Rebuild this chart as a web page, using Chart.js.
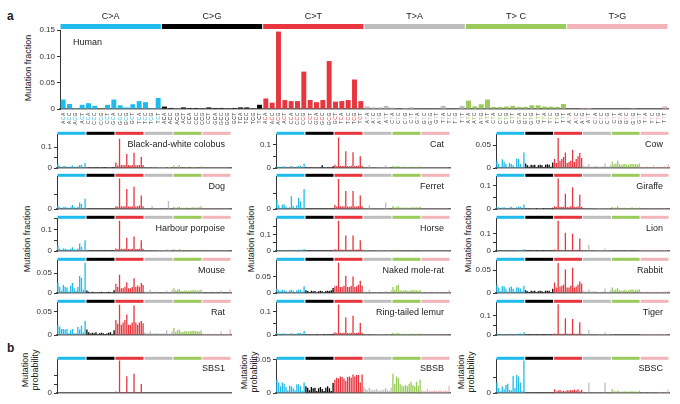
<!DOCTYPE html>
<html>
<head>
<meta charset="utf-8">
<script src="https://cdn.jsdelivr.net/npm/chart.js@4.4.0/dist/chart.umd.min.js"></script>
<style>
  body { margin: 0; background: #fff; font-family: "Liberation Sans", Arial, sans-serif; }
  #fig { position: relative; width: 680px; height: 404px; overflow: hidden; }
  #fig canvas { position: absolute; }
  .lbl { position: absolute; color: #222; font-size: 9px; white-space: nowrap; }
  .rot { transform: translate(-50%, -50%) rotate(-90deg); text-align: center; line-height: 10px; }
</style>
</head>
<body>
<div id="fig">
  <div class="lbl" style="left:7px;top:9px;font-weight:bold;font-size:12px">a</div>
  <div class="lbl" style="left:7px;top:341px;font-weight:bold;font-size:12px">b</div>
  <div class="lbl rot" style="left:28px;top:68px">Mutation fraction</div>
  <div class="lbl rot" style="left:27px;top:239px">Mutation fraction</div>
  <div class="lbl rot" style="left:251px;top:239px">Mutation fraction</div>
  <div class="lbl rot" style="left:468px;top:239px">Mutation fraction</div>
  <div class="lbl rot" style="left:30px;top:370px">Mutation<br>probability</div>
  <div class="lbl rot" style="left:249px;top:372px">Mutation<br>probability</div>
  <div class="lbl rot" style="left:466px;top:372px">Mutation<br>probability</div>
</div>
<script>
// categories
const mutationTypes = ['C>A', 'C>G', 'C>T', 'T>A', 'T>C', 'T>G'];
const typeLabels = ['C>A', 'C>G', 'C>T', 'T>A', 'T> C', 'T>G'];
const fivePrime = ['A', 'C', 'G', 'T'];
const threePrime = ['A', 'C', 'G', 'T'];
const typeColors = ['#1fbbec', '#000000', '#e8363f', '#bdbdbd', '#9bca5c', '#f2b4b9'];

// values, 96 per panel (16 contexts per mutation type)
const human = [
  0.018, 0.0095, 0.002, 0.008, 0.011, 0.006, 0.001, 0.008, 0.018, 0.007, 0.003, 0.009, 0.015, 0.013, 0.002, 0.021,
  0.0045, 0.002, 0.001, 0.003, 0.002, 0.002, 0.0006, 0.003, 0.002, 0.002, 0.0005, 0.002, 0.003, 0.003, 0.0005, 0.008,
  0.02, 0.012, 0.147, 0.017, 0.015, 0.015, 0.071, 0.017, 0.013, 0.017, 0.091, 0.014, 0.015, 0.017, 0.056, 0.015,
  0.005, 0.003, 0.003, 0.006, 0.0025, 0.001, 0.002, 0.003, 0.001, 0.0008, 0.001, 0.0008, 0.006, 0.001, 0.0008, 0.006,
  0.016, 0.005, 0.009, 0.018, 0.004, 0.004, 0.0045, 0.006, 0.004, 0.004, 0.007, 0.007, 0.0045, 0.0045, 0.004, 0.0095,
  0.001, 0.001, 0.0015, 0.002, 0.001, 0.001, 0.001, 0.001, 0.001, 0.001, 0.0015, 0.001, 0.001, 0.001, 0.001, 0.005
];
const colobus = [
  0.02, 0.01, 0.003, 0.008, 0.01, 0.006, 0.002, 0.007, 0.012, 0.006, 0.002, 0.008, 0.014, 0.016, 0.003, 0.024,
  0.003, 0.001, 0.001, 0.002, 0.001, 0.001, 0.0005, 0.002, 0.001, 0.001, 0.0005, 0.001, 0.002, 0.002, 0.0005, 0.005,
  0.027, 0.012, 0.141, 0.014, 0.013, 0.014, 0.068, 0.014, 0.012, 0.015, 0.073, 0.013, 0.013, 0.015, 0.053, 0.014,
  0.002, 0.001, 0.001, 0.003, 0.001, 0.001, 0.001, 0.001, 0.0005, 0.0005, 0.0005, 0.0005, 0.003, 0.0005, 0.0005, 0.002,
  0.012, 0.004, 0.007, 0.013, 0.004, 0.003, 0.004, 0.005, 0.003, 0.003, 0.005, 0.005, 0.004, 0.004, 0.003, 0.007,
  0.001, 0.001, 0.001, 0.001, 0.001, 0.001, 0.001, 0.001, 0.001, 0.001, 0.001, 0.001, 0.001, 0.001, 0.001, 0.003
];
const dog = [
  0.012, 0.006, 0.002, 0.006, 0.008, 0.005, 0.001, 0.006, 0.014, 0.006, 0.002, 0.008, 0.023, 0.018, 0.003, 0.036,
  0.002, 0.001, 0.0005, 0.001, 0.001, 0.001, 0.0005, 0.001, 0.001, 0.001, 0.0005, 0.001, 0.001, 0.001, 0.0005, 0.003,
  0.01, 0.008, 0.108, 0.01, 0.009, 0.01, 0.071, 0.009, 0.008, 0.01, 0.079, 0.009, 0.01, 0.012, 0.048, 0.01,
  0.001, 0.001, 0.001, 0.002, 0.011, 0.001, 0.001, 0.001, 0.0005, 0.0005, 0.0005, 0.0005, 0.002, 0.028, 0.0005, 0.002,
  0.008, 0.004, 0.006, 0.009, 0.004, 0.004, 0.004, 0.005, 0.003, 0.004, 0.005, 0.006, 0.004, 0.005, 0.006, 0.01,
  0.001, 0.001, 0.001, 0.001, 0.001, 0.001, 0.001, 0.001, 0.001, 0.001, 0.001, 0.001, 0.001, 0.001, 0.001, 0.002
];
const porpoise = [
  0.027, 0.01, 0.003, 0.012, 0.01, 0.008, 0.002, 0.01, 0.018, 0.008, 0.003, 0.012, 0.035, 0.02, 0.003, 0.05,
  0.002, 0.001, 0.0005, 0.001, 0.001, 0.001, 0.0005, 0.001, 0.001, 0.001, 0.0005, 0.001, 0.001, 0.001, 0.0005, 0.003,
  0.012, 0.008, 0.141, 0.01, 0.009, 0.01, 0.062, 0.009, 0.008, 0.01, 0.068, 0.009, 0.009, 0.011, 0.05, 0.01,
  0.002, 0.001, 0.001, 0.002, 0.001, 0.001, 0.001, 0.001, 0.0005, 0.0005, 0.0005, 0.0005, 0.008, 0.0005, 0.0005, 0.002,
  0.008, 0.004, 0.005, 0.009, 0.004, 0.003, 0.004, 0.004, 0.003, 0.003, 0.004, 0.005, 0.004, 0.004, 0.003, 0.006,
  0.001, 0.001, 0.001, 0.001, 0.001, 0.001, 0.001, 0.001, 0.001, 0.001, 0.001, 0.001, 0.001, 0.001, 0.001, 0.002
];
const mouse = [
  0.025, 0.015, 0.006, 0.02, 0.016, 0.014, 0.004, 0.018, 0.025, 0.012, 0.005, 0.015, 0.043, 0.038, 0.008, 0.076,
  0.006, 0.003, 0.001, 0.003, 0.002, 0.002, 0.0005, 0.002, 0.003, 0.002, 0.0005, 0.002, 0.003, 0.002, 0.0005, 0.007,
  0.023, 0.015, 0.046, 0.012, 0.012, 0.016, 0.027, 0.012, 0.012, 0.015, 0.037, 0.015, 0.019, 0.016, 0.025, 0.02,
  0.004, 0.003, 0.003, 0.008, 0.002, 0.002, 0.003, 0.003, 0.002, 0.002, 0.002, 0.002, 0.006, 0.002, 0.002, 0.008,
  0.012, 0.006, 0.008, 0.01, 0.005, 0.005, 0.006, 0.006, 0.005, 0.006, 0.007, 0.008, 0.006, 0.006, 0.006, 0.009,
  0.002, 0.001, 0.001, 0.002, 0.001, 0.001, 0.001, 0.002, 0.001, 0.001, 0.006, 0.001, 0.001, 0.001, 0.001, 0.009
];
const rat = [
  0.022, 0.017, 0.013, 0.013, 0.012, 0.013, 0.004, 0.01, 0.013, 0.004, 0.004, 0.017, 0.012, 0.02, 0.006, 0.03,
  0.012, 0.006, 0.003, 0.005, 0.004, 0.006, 0.002, 0.004, 0.005, 0.004, 0.002, 0.003, 0.005, 0.006, 0.002, 0.01,
  0.032, 0.024, 0.065, 0.022, 0.027, 0.032, 0.044, 0.022, 0.022, 0.027, 0.063, 0.027, 0.022, 0.027, 0.03, 0.025,
  0.006, 0.004, 0.004, 0.008, 0.003, 0.003, 0.004, 0.004, 0.003, 0.003, 0.003, 0.004, 0.01, 0.003, 0.003, 0.008,
  0.015, 0.007, 0.01, 0.012, 0.007, 0.007, 0.008, 0.008, 0.007, 0.008, 0.009, 0.009, 0.008, 0.008, 0.007, 0.01,
  0.003, 0.002, 0.002, 0.003, 0.002, 0.002, 0.002, 0.003, 0.002, 0.002, 0.008, 0.002, 0.002, 0.002, 0.002, 0.012
];
const sbs1 = [
  0, 0, 0, 0, 0, 0, 0, 0, 0, 0, 0, 0, 0, 0, 0, 0,
  0, 0, 0, 0, 0, 0, 0, 0, 0, 0, 0, 0, 0, 0, 0, 0,
  0.018, 0.003, 0.366, 0.002, 0.004, 0.002, 0.19, 0.002, 0.003, 0.002, 0.216, 0.002, 0.002, 0.002, 0.102, 0.002,
  0, 0, 0, 0, 0, 0, 0, 0, 0, 0, 0, 0, 0, 0, 0, 0,
  0, 0, 0, 0, 0, 0, 0, 0, 0, 0, 0, 0, 0, 0, 0, 0,
  0, 0, 0, 0, 0, 0, 0, 0, 0, 0, 0, 0, 0, 0, 0, 0
];
const cat = [
  0.008, 0.005, 0.002, 0.006, 0.006, 0.005, 0.001, 0.006, 0.009, 0.005, 0.002, 0.006, 0.009, 0.01, 0.002, 0.018,
  0.004, 0.002, 0.001, 0.003, 0.002, 0.002, 0.001, 0.002, 0.003, 0.012, 0.001, 0.002, 0.003, 0.003, 0.001, 0.008,
  0.014, 0.008, 0.131, 0.01, 0.009, 0.01, 0.072, 0.009, 0.008, 0.01, 0.068, 0.009, 0.009, 0.011, 0.051, 0.01,
  0.001, 0.001, 0.001, 0.014, 0.001, 0.001, 0.001, 0.001, 0.0005, 0.0005, 0.0005, 0.0005, 0.011, 0.0005, 0.0005, 0.002,
  0.01, 0.005, 0.006, 0.009, 0.005, 0.004, 0.005, 0.005, 0.004, 0.004, 0.005, 0.005, 0.004, 0.005, 0.004, 0.006,
  0.001, 0.001, 0.001, 0.001, 0.001, 0.001, 0.001, 0.001, 0.001, 0.001, 0.001, 0.001, 0.001, 0.001, 0.001, 0.002
];
const ferret = [
  0.03, 0.012, 0.003, 0.014, 0.015, 0.008, 0.002, 0.006, 0.041, 0.01, 0.002, 0.012, 0.036, 0.025, 0.004, 0.065,
  0.002, 0.001, 0.0005, 0.001, 0.001, 0.001, 0.0005, 0.001, 0.001, 0.001, 0.0005, 0.001, 0.001, 0.001, 0.0005, 0.003,
  0.013, 0.008, 0.097, 0.009, 0.008, 0.009, 0.058, 0.008, 0.007, 0.009, 0.058, 0.008, 0.008, 0.01, 0.044, 0.009,
  0.001, 0.001, 0.001, 0.012, 0.001, 0.001, 0.001, 0.001, 0.0005, 0.0005, 0.0005, 0.0005, 0.021, 0.0005, 0.0005, 0.002,
  0.01, 0.005, 0.006, 0.008, 0.005, 0.004, 0.005, 0.005, 0.004, 0.004, 0.005, 0.006, 0.005, 0.006, 0.005, 0.007,
  0.001, 0.001, 0.001, 0.001, 0.001, 0.001, 0.001, 0.001, 0.001, 0.001, 0.001, 0.001, 0.001, 0.001, 0.001, 0.002
];
const horse = [
  0.006, 0.004, 0.001, 0.004, 0.005, 0.004, 0.001, 0.004, 0.007, 0.004, 0.001, 0.005, 0.008, 0.008, 0.001, 0.012,
  0.002, 0.001, 0.0005, 0.001, 0.001, 0.001, 0.0005, 0.001, 0.001, 0.001, 0.0005, 0.001, 0.001, 0.001, 0.0005, 0.003,
  0.01, 0.007, 0.186, 0.008, 0.007, 0.008, 0.096, 0.008, 0.007, 0.008, 0.096, 0.008, 0.007, 0.009, 0.066, 0.008,
  0.001, 0.001, 0.001, 0.002, 0.001, 0.001, 0.001, 0.001, 0.0005, 0.0005, 0.0005, 0.0005, 0.002, 0.0005, 0.0005, 0.001,
  0.007, 0.004, 0.005, 0.007, 0.004, 0.003, 0.004, 0.004, 0.003, 0.003, 0.004, 0.004, 0.004, 0.004, 0.003, 0.005,
  0.001, 0.001, 0.001, 0.001, 0.001, 0.001, 0.001, 0.001, 0.001, 0.001, 0.001, 0.001, 0.001, 0.001, 0.001, 0.002
];
const moleRat = [
  0.013, 0.008, 0.005, 0.01, 0.008, 0.007, 0.003, 0.008, 0.01, 0.007, 0.003, 0.008, 0.01, 0.01, 0.004, 0.02,
  0.008, 0.006, 0.003, 0.007, 0.005, 0.006, 0.002, 0.005, 0.007, 0.005, 0.002, 0.006, 0.007, 0.006, 0.008, 0.015,
  0.02, 0.022, 0.091, 0.018, 0.018, 0.022, 0.052, 0.018, 0.018, 0.022, 0.05, 0.018, 0.02, 0.025, 0.037, 0.022,
  0.003, 0.002, 0.002, 0.01, 0.002, 0.002, 0.002, 0.003, 0.001, 0.001, 0.001, 0.001, 0.006, 0.002, 0.001, 0.008,
  0.018, 0.01, 0.022, 0.025, 0.008, 0.007, 0.008, 0.008, 0.007, 0.007, 0.008, 0.009, 0.008, 0.008, 0.007, 0.009,
  0.003, 0.002, 0.002, 0.003, 0.002, 0.002, 0.002, 0.003, 0.002, 0.002, 0.004, 0.002, 0.002, 0.002, 0.002, 0.01
];
const lemur = [
  0.008, 0.005, 0.002, 0.006, 0.006, 0.005, 0.001, 0.005, 0.008, 0.005, 0.002, 0.006, 0.009, 0.01, 0.002, 0.017,
  0.003, 0.002, 0.001, 0.002, 0.002, 0.002, 0.0005, 0.002, 0.002, 0.002, 0.0005, 0.002, 0.003, 0.003, 0.001, 0.005,
  0.012, 0.008, 0.132, 0.01, 0.009, 0.01, 0.076, 0.009, 0.008, 0.01, 0.083, 0.009, 0.009, 0.011, 0.052, 0.01,
  0.002, 0.001, 0.001, 0.002, 0.001, 0.001, 0.001, 0.001, 0.0005, 0.0005, 0.0005, 0.0005, 0.002, 0.0005, 0.0005, 0.002,
  0.01, 0.005, 0.006, 0.009, 0.005, 0.004, 0.005, 0.005, 0.004, 0.004, 0.005, 0.005, 0.004, 0.005, 0.004, 0.006,
  0.001, 0.001, 0.001, 0.001, 0.001, 0.001, 0.001, 0.001, 0.001, 0.001, 0.001, 0.001, 0.001, 0.001, 0.001, 0.002
];
const sbsb = [
  0.02, 0.016, 0.01, 0.016, 0.014, 0.009, 0.004, 0.011, 0.01, 0.007, 0.004, 0.013, 0.013, 0.01, 0.003, 0.016,
  0.01, 0.008, 0.004, 0.009, 0.007, 0.008, 0.003, 0.007, 0.009, 0.006, 0.003, 0.008, 0.01, 0.007, 0.003, 0.015,
  0.02, 0.023, 0.022, 0.025, 0.024, 0.022, 0.018, 0.024, 0.025, 0.023, 0.028, 0.025, 0.027, 0.027, 0.016, 0.028,
  0.009, 0.006, 0.004, 0.008, 0.005, 0.004, 0.005, 0.006, 0.003, 0.004, 0.004, 0.005, 0.007, 0.004, 0.003, 0.008,
  0.029, 0.014, 0.025, 0.023, 0.014, 0.011, 0.01, 0.012, 0.01, 0.014, 0.017, 0.012, 0.01, 0.017, 0.011, 0.02,
  0.004, 0.003, 0.003, 0.006, 0.003, 0.003, 0.003, 0.004, 0.003, 0.003, 0.005, 0.003, 0.003, 0.004, 0.003, 0.011
];
const cow = [
  0.016, 0.009, 0.002, 0.019, 0.014, 0.009, 0.002, 0.011, 0.009, 0.006, 0.002, 0.021, 0.02, 0.009, 0.002, 0.034,
  0.01, 0.006, 0.003, 0.007, 0.006, 0.007, 0.002, 0.006, 0.007, 0.006, 0.002, 0.007, 0.008, 0.007, 0.003, 0.012,
  0.02, 0.011, 0.066, 0.016, 0.02, 0.024, 0.034, 0.011, 0.013, 0.016, 0.04, 0.013, 0.02, 0.026, 0.033, 0.022,
  0.005, 0.004, 0.004, 0.009, 0.003, 0.003, 0.004, 0.005, 0.003, 0.003, 0.003, 0.004, 0.01, 0.003, 0.003, 0.006,
  0.014, 0.008, 0.01, 0.016, 0.008, 0.007, 0.008, 0.009, 0.007, 0.007, 0.009, 0.009, 0.008, 0.009, 0.007, 0.01,
  0.003, 0.002, 0.002, 0.004, 0.002, 0.002, 0.002, 0.006, 0.002, 0.002, 0.003, 0.002, 0.002, 0.004, 0.002, 0.008
];
const giraffe = [
  0.01, 0.006, 0.002, 0.006, 0.007, 0.005, 0.001, 0.006, 0.01, 0.005, 0.002, 0.007, 0.01, 0.01, 0.002, 0.019,
  0.003, 0.002, 0.001, 0.002, 0.002, 0.002, 0.0005, 0.002, 0.002, 0.002, 0.0005, 0.002, 0.003, 0.003, 0.001, 0.005,
  0.012, 0.009, 0.13, 0.01, 0.009, 0.01, 0.065, 0.009, 0.008, 0.012, 0.093, 0.009, 0.009, 0.012, 0.061, 0.01,
  0.002, 0.001, 0.001, 0.002, 0.001, 0.001, 0.001, 0.001, 0.0005, 0.0005, 0.0005, 0.0005, 0.003, 0.0005, 0.0005, 0.002,
  0.009, 0.005, 0.006, 0.012, 0.005, 0.004, 0.005, 0.005, 0.004, 0.004, 0.005, 0.006, 0.004, 0.005, 0.004, 0.006,
  0.001, 0.001, 0.001, 0.001, 0.001, 0.001, 0.001, 0.001, 0.001, 0.001, 0.001, 0.001, 0.001, 0.001, 0.001, 0.002
];
const lion = [
  0.005, 0.003, 0.001, 0.003, 0.004, 0.003, 0.001, 0.003, 0.005, 0.003, 0.001, 0.004, 0.006, 0.006, 0.001, 0.01,
  0.001, 0.001, 0.0005, 0.001, 0.001, 0.001, 0.0005, 0.001, 0.001, 0.001, 0.0005, 0.001, 0.001, 0.001, 0.0005, 0.002,
  0.008, 0.005, 0.175, 0.006, 0.005, 0.006, 0.106, 0.006, 0.005, 0.006, 0.1, 0.006, 0.005, 0.007, 0.072, 0.006,
  0.001, 0.001, 0.001, 0.034, 0.001, 0.001, 0.001, 0.001, 0.0005, 0.0005, 0.0005, 0.0005, 0.015, 0.0005, 0.0005, 0.002,
  0.005, 0.003, 0.003, 0.005, 0.003, 0.002, 0.003, 0.003, 0.002, 0.002, 0.003, 0.003, 0.003, 0.003, 0.002, 0.004,
  0.0005, 0.0005, 0.0005, 0.0005, 0.0005, 0.0005, 0.0005, 0.0005, 0.0005, 0.0005, 0.0005, 0.0005, 0.0005, 0.0005, 0.0005, 0.001
];
const rabbit = [
  0.018, 0.012, 0.004, 0.015, 0.014, 0.01, 0.003, 0.012, 0.014, 0.009, 0.003, 0.012, 0.012, 0.01, 0.004, 0.016,
  0.006, 0.004, 0.002, 0.005, 0.004, 0.005, 0.002, 0.004, 0.005, 0.004, 0.002, 0.005, 0.005, 0.005, 0.002, 0.009,
  0.023, 0.012, 0.065, 0.014, 0.016, 0.018, 0.051, 0.012, 0.012, 0.016, 0.055, 0.012, 0.014, 0.018, 0.025, 0.02,
  0.005, 0.003, 0.003, 0.008, 0.003, 0.003, 0.003, 0.004, 0.002, 0.002, 0.002, 0.003, 0.01, 0.002, 0.002, 0.006,
  0.012, 0.006, 0.008, 0.011, 0.006, 0.005, 0.006, 0.007, 0.005, 0.006, 0.007, 0.008, 0.006, 0.007, 0.006, 0.008,
  0.003, 0.002, 0.002, 0.003, 0.002, 0.002, 0.002, 0.003, 0.002, 0.002, 0.002, 0.002, 0.002, 0.003, 0.002, 0.005
];
const tiger = [
  0.006, 0.004, 0.001, 0.004, 0.005, 0.003, 0.001, 0.004, 0.006, 0.004, 0.001, 0.005, 0.008, 0.008, 0.001, 0.015,
  0.001, 0.001, 0.0005, 0.001, 0.001, 0.001, 0.0005, 0.001, 0.001, 0.001, 0.0005, 0.001, 0.001, 0.001, 0.0005, 0.002,
  0.008, 0.005, 0.16, 0.006, 0.005, 0.006, 0.088, 0.006, 0.005, 0.006, 0.083, 0.006, 0.005, 0.007, 0.066, 0.006,
  0.001, 0.001, 0.001, 0.027, 0.001, 0.001, 0.001, 0.001, 0.0005, 0.0005, 0.0005, 0.0005, 0.015, 0.0005, 0.0005, 0.002,
  0.004, 0.002, 0.003, 0.004, 0.002, 0.002, 0.002, 0.002, 0.002, 0.002, 0.002, 0.003, 0.002, 0.002, 0.002, 0.003,
  0.0005, 0.0005, 0.0005, 0.0005, 0.0005, 0.0005, 0.0005, 0.0005, 0.0005, 0.0005, 0.0005, 0.0005, 0.0005, 0.0005, 0.0005, 0.001
];
const sbsc = [
  0.034, 0.016, 0.006, 0.021, 0.012, 0.026, 0.03, 0.01, 0.008, 0.055, 0.016, 0.058, 0.053, 0.034, 0.006, 0.105,
  0.001, 0.0005, 0.0005, 0.001, 0.0005, 0.0005, 0.0005, 0.0005, 0.0005, 0.0005, 0.0005, 0.0005, 0.0005, 0.0005, 0.0005, 0.001,
  0.012, 0.005, 0.008, 0.01, 0.006, 0.007, 0.005, 0.009, 0.008, 0.01, 0.009, 0.011, 0.008, 0.012, 0.006, 0.01,
  0.001, 0.001, 0.001, 0.034, 0.001, 0.001, 0.001, 0.001, 0.0005, 0.0005, 0.0005, 0.0005, 0.034, 0.0005, 0.0005, 0.001,
  0.012, 0.006, 0.005, 0.008, 0.005, 0.004, 0.005, 0.006, 0.004, 0.005, 0.005, 0.006, 0.005, 0.005, 0.004, 0.007,
  0.002, 0.001, 0.001, 0.002, 0.001, 0.001, 0.001, 0.002, 0.001, 0.001, 0.004, 0.001, 0.001, 0.001, 0.001, 0.012
];

// trinucleotide labels, e.g. "ACA", built from the flanks
const contexts = [];
mutationTypes.forEach(t => {
  fivePrime.forEach(a => threePrime.forEach(b => contexts.push(a + t[0] + b)));
});
const barColors = contexts.map((c, i) => typeColors[Math.floor(i / 16)]);

const FONT = '"Liberation Sans", Arial, sans-serif';
const fig = document.getElementById('fig');

// colour strip above the plot, panel name and (for Human) the context labels
const stripPlugin = {
  id: 'strip',
  afterDraw(chart, args, opts) {
    const { ctx, chartArea } = chart;
    const x = chart.scales.x;
    const slot = x.width / 96;
    ctx.save();
    for (let g = 0; g < 6; g++) {
      const x0 = x.getPixelForValue(g * 16) - slot / 2;
      const x1 = x.getPixelForValue(g * 16 + 15) + slot / 2;
      ctx.fillStyle = typeColors[g];
      ctx.fillRect(x0 + 0.5, chartArea.top - opts.gap - opts.height, x1 - x0 - 1, opts.height);
      if (opts.showTypes) {
        ctx.fillStyle = '#222';
        ctx.font = '9px ' + FONT;
        ctx.textAlign = 'center';
        ctx.textBaseline = 'middle';
        ctx.fillText(typeLabels[g], (x0 + x1) / 2, chartArea.top - opts.gap - opts.height - 7);
      }
    }
    if (opts.name) {
      ctx.fillStyle = '#222';
      ctx.font = '9px ' + FONT;
      ctx.textBaseline = 'middle';
      if (opts.nameLeft) {
        ctx.textAlign = 'left';
        ctx.fillText(opts.name, chartArea.left + 13, chartArea.top + 13);
      } else {
        ctx.textAlign = 'right';
        ctx.fillText(opts.name, chartArea.right - 6, chartArea.top + opts.nameDy);
      }
    }
    if (opts.contextLabels) {
      ctx.font = '5px ' + FONT;
      ctx.textBaseline = 'middle';
      ctx.textAlign = 'left';
      contexts.forEach((c, i) => {
        const px = x.getPixelForValue(i);
        const widths = c.split('').map(ch => ctx.measureText(ch).width + 0.6);
        const total = widths.reduce((s, w) => s + w, 0);
        ctx.save();
        ctx.translate(px, chartArea.bottom + 3);
        ctx.rotate(-Math.PI / 2);
        let pos = -total;
        c.split('').forEach((ch, k) => {
          ctx.fillStyle = k === 1 ? typeColors[Math.floor(i / 16)] : '#444';
          ctx.fillText(ch, pos, 0);
          pos += widths[k];
        });
        ctx.restore();
      });
    }
    ctx.restore();
  }
};

function drawPanel(cfg) {
  const AXW = 40, PR = 4;
  const pt = cfg.padTop || 6;
  const xh = cfg.xHeight || 8;
  const canvas = document.createElement('canvas');
  const w = cfg.right - cfg.left + AXW + PR;
  const h = cfg.bottom - cfg.top + pt + xh;
  canvas.width = w;
  canvas.height = h;
  canvas.style.left = (cfg.left - AXW) + 'px';
  canvas.style.top = (cfg.top - pt) + 'px';
  canvas.style.width = w + 'px';
  canvas.style.height = h + 'px';
  fig.appendChild(canvas);

  const isMultiple = (v, step) => Math.abs(v / step - Math.round(v / step)) < 1e-6;

  new Chart(canvas, {
    type: 'bar',
    data: {
      labels: contexts,
      datasets: [{
        data: cfg.values,
        backgroundColor: barColors,
        barPercentage: cfg.barPct || 0.72,
        categoryPercentage: 1
      }]
    },
    plugins: [stripPlugin],
    options: {
      responsive: false,
      animation: false,
      layout: { padding: { top: pt, right: PR, left: 0, bottom: 0 } },
      plugins: {
        legend: { display: false },
        tooltip: { enabled: false },
        strip: {
          gap: cfg.stripGap || 0,
          height: cfg.stripH || 3,
          showTypes: !!cfg.showTypes,
          name: cfg.name,
          nameLeft: !!cfg.nameLeft,
          nameDy: cfg.nameDy || 10,
          contextLabels: !!cfg.contextLabels
        }
      },
      scales: {
        x: {
          offset: true,
          grid: { display: false },
          ticks: { display: false },
          border: { color: '#666', width: 1.5 },
          afterFit(s) { s.height = xh; }
        },
        y: {
          min: 0,
          max: cfg.max,
          afterFit(s) { s.width = AXW; },
          afterBuildTicks(s) {
            s.ticks = s.ticks.filter(t => isMultiple(t.value, cfg.minor));
          },
          ticks: {
            stepSize: cfg.minor,
            autoSkip: false,
            color: '#333',
            padding: 2,
            font: { size: 8, family: FONT },
            callback(v) {
              if (!isMultiple(v, cfg.major)) return '';
              if (v === 0) return '0';
              return cfg.decimals ? v.toFixed(cfg.decimals) : String(+v.toFixed(3));
            }
          },
          grid: { drawOnChartArea: false, drawTicks: true, tickLength: 3, color: '#333' },
          border: { color: '#333', width: 1 }
        }
      }
    }
  });
}

// panel a, Human
drawPanel({
  values: human, name: 'Human', nameLeft: true,
  left: 60, right: 668, top: 30, bottom: 109,
  max: 0.15, major: 0.05, minor: 0.05, decimals: 2,
  padTop: 30, xHeight: 22, stripGap: 1, stripH: 5,
  showTypes: true, contextLabels: true, barPct: 0.78
});

// small panels: [values, name, max, major, minor]
const cols = [
  { left: 57, right: 231 },
  { left: 276, right: 450 },
  { left: 496, right: 669 }
];
const rows = [
  { top: 134, bottom: 168 },
  { top: 176, bottom: 209 },
  { top: 218, bottom: 251 },
  { top: 260, bottom: 293 },
  { top: 302, bottom: 335 },
  { top: 359, bottom: 393 }
];
const panels = [
  [
    [colobus, 'Black-and-white colobus', 0.16, 0.1, 0.05],
    [dog, 'Dog', 0.114, 0.1, 0.05],
    [porpoise, 'Harbour porpoise', 0.15, 0.1, 0.05],
    [mouse, 'Mouse', 0.081, 0.05, 0.05],
    [rat, 'Rat', 0.069, 0.05, 0.05],
    [sbs1, 'SBS1', 0.374, 0.3, 0.1]
  ],
  [
    [cat, 'Cat', 0.143, 0.1, 0.05],
    [ferret, 'Ferret', 0.104, 0.1, 0.05],
    [horse, 'Horse', 0.198, 0.1, 0.05],
    [moleRat, 'Naked mole-rat', 0.097, 0.05, 0.05],
    [lemur, 'Ring-tailed lemur', 0.139, 0.1, 0.05],
    [sbsb, 'SBSB', 0.05, 0.05, 0.05]
  ],
  [
    [cow, 'Cow', 0.073, 0.05, 0.05],
    [giraffe, 'Giraffe', 0.1375, 0.1, 0.05],
    [lion, 'Lion', 0.186, 0.1, 0.05],
    [rabbit, 'Rabbit', 0.07, 0.05, 0.05],
    [tiger, 'Tiger', 0.168, 0.1, 0.05],
    [sbsc, 'SBSC', 0.107, 0.1, 0.05]
  ]
];

panels.forEach((col, c) => {
  col.forEach((p, r) => {
    drawPanel({
      values: p[0], name: p[1], max: p[2], major: p[3], minor: p[4],
      left: cols[c].left, right: cols[c].right,
      top: rows[r].top, bottom: rows[r].bottom,
      nameDy: r === 5 ? 9 : 10
    });
  });
});
</script>
</body>
</html>
